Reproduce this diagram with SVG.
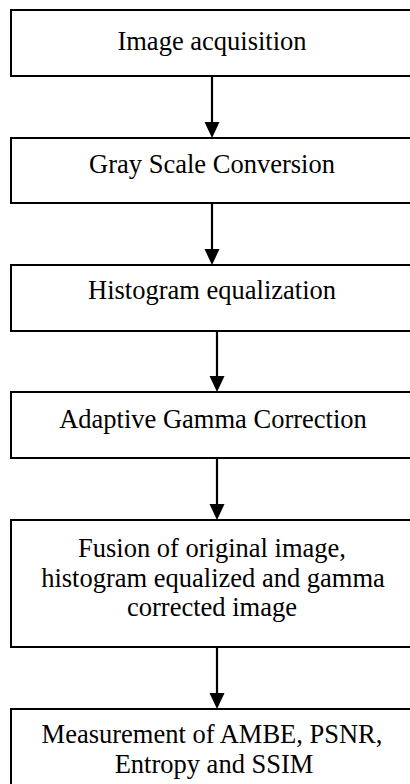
<svg xmlns="http://www.w3.org/2000/svg" width="410" height="784" viewBox="0 0 410 784">
<style>
.box{fill:#fff;stroke:#000;stroke-width:2}
.t{font-family:"Liberation Serif","Times New Roman",serif;font-size:26.5px;fill:#000;text-anchor:middle}
.c{stroke:#000;stroke-width:2.2;fill:none}
.h{fill:#000}
</style>
<rect width="410" height="784" fill="#fff"/>
<g id="connectors">
<line class="c" x1="212" y1="76" x2="212" y2="124"/><polygon class="h" points="204.5,122 219.5,122 212,138"/>
<line class="c" x1="212" y1="203" x2="212" y2="251"/><polygon class="h" points="204.5,249 219.5,249 212,265"/>
<line class="c" x1="217" y1="331" x2="217" y2="378"/><polygon class="h" points="209.5,376 224.5,376 217,392"/>
<line class="c" x1="217" y1="458" x2="217" y2="506"/><polygon class="h" points="209.5,504 224.5,504 217,520"/>
<line class="c" x1="217" y1="647" x2="217" y2="695"/><polygon class="h" points="209.5,693 224.5,693 217,709"/>
</g>
<g id="n1"><rect class="box" x="11" y="10" width="404" height="66"/><text class="t" x="212" y="50">Image acquisition</text></g>
<g id="n2"><rect class="box" x="11" y="138" width="404" height="65"/><text class="t" x="212" y="173">Gray Scale Conversion</text></g>
<g id="n3"><rect class="box" x="11" y="265" width="404" height="66"/><text class="t" x="212" y="299">Histogram equalization</text></g>
<g id="n4"><rect class="box" x="11" y="392" width="404" height="66"/><text class="t" x="213" y="428">Adaptive Gamma Correction</text></g>
<g id="n5"><rect class="box" x="11" y="520" width="404" height="127"/><text class="t" x="212" y="557">Fusion of original image,</text><text class="t" x="213" y="586.5">histogram equalized and gamma</text><text class="t" x="212" y="616">corrected image</text></g>
<g id="n6"><rect class="box" x="11" y="709" width="404" height="90"/><text class="t" x="212" y="743">Measurement of AMBE, PSNR,</text><text class="t" x="214" y="772.5">Entropy and SSIM</text></g>
</svg>
